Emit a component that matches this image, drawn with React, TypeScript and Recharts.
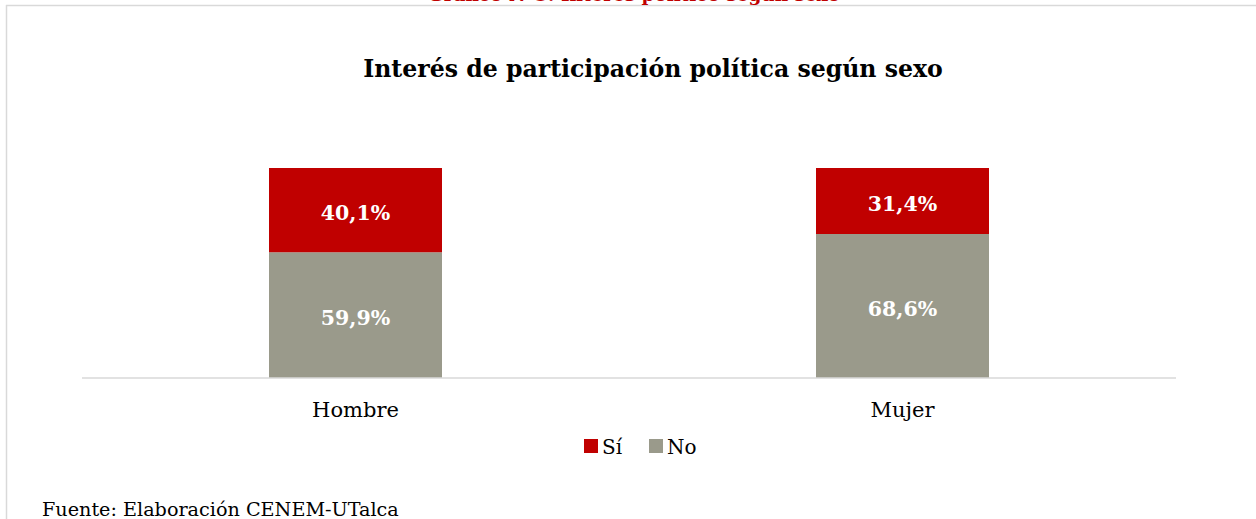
import React from 'react';
import { BarChart, Bar, XAxis, YAxis, LabelList } from 'recharts';

const categories = ['Hombre', 'Mujer'];
const siValues = [40.1, 31.4];
const noValues = [59.9, 68.6];
const seriesKeys = ['si', 'no'];
const seriesNames = ['Sí', 'No'];
const seriesColors = ['#C00000', '#9A9A8B'];
const titleText = 'Interés de participación política según sexo';
const headingText = 'Gráfico N°5: Interés político según sexo';
const sourceText = 'Fuente: Elaboración CENEM-UTalca';

const data = categories.map((c, i) => ({ sexo: c, si: siValues[i], no: noValues[i] }));

const FONT = '"DejaVu Serif", serif';

const fmt = (v: any) => `${Number(v).toFixed(1).replace('.', ',')}%`;

const renderLabel = (props: any) => {
  const { x, y, width, height, value } = props;
  return (
    <text
      x={Number(x) + Number(width) / 2}
      y={Number(y) + Number(height) / 2 + 3}
      textAnchor="middle"
      dominantBaseline="central"
      fill="#FFFFFF"
      fontSize={20.5}
      fontWeight="bold"
      fontFamily={FONT}
    >
      {fmt(value)}
    </text>
  );
};

export default function App() {
  const legendX = [584, 649];
  return (
    <div
      style={{
        position: 'absolute',
        left: 0,
        top: 0,
        width: 1256,
        height: 519,
        overflow: 'hidden',
        background: '#fff',
      }}
    >
      <div style={{ position: 'absolute', left: 0, top: 0 }}>
        <BarChart
          width={1256}
          height={519}
          data={data}
          margin={{ top: 168, right: 80, bottom: 111, left: 82 }}
        >
          <YAxis hide domain={[0, 100]} />
          <XAxis
            dataKey="sexo"
            height={30}
            tickLine={false}
            axisLine={{ stroke: '#D9D9D9', strokeWidth: 1.5 }}
            tick={{ fill: '#000', fontSize: 21, fontFamily: FONT }}
            tickMargin={18}
          />
          <Bar dataKey="no" stackId="a" fill={seriesColors[1]} barSize={173} isAnimationActive={false}>
            <LabelList dataKey="no" content={renderLabel} />
          </Bar>
          <Bar dataKey="si" stackId="a" fill={seriesColors[0]} barSize={173} isAnimationActive={false}>
            <LabelList dataKey="si" content={renderLabel} />
          </Bar>
        </BarChart>
      </div>
      <svg
        width={1256}
        height={519}
        style={{ position: 'absolute', left: 0, top: 0, pointerEvents: 'none' }}
      >
        <line x1={6} y1={5.5} x2={1256} y2={5.5} stroke="#D9D9D9" strokeWidth={1.5} />
        <line x1={6.5} y1={5} x2={6.5} y2={519} stroke="#D9D9D9" strokeWidth={1.5} />
        <text
          x={428}
          y={0.5}
          fontFamily={FONT}
          fontWeight="bold"
          fontSize={16}
          fill="#C00000"
          textLength={412}
          lengthAdjust="spacingAndGlyphs"
        >
          {headingText}
        </text>
        <text
          x={653}
          y={77}
          textAnchor="middle"
          fontFamily={FONT}
          fontWeight="bold"
          fontSize={23.6}
          fill="#000"
        >
          {titleText}
        </text>
        {seriesNames.map((name, i) => (
          <g key={seriesKeys[i]}>
            <rect x={legendX[i]} y={439} width={14} height={14} fill={seriesColors[i]} />
            <text x={legendX[i] + 18} y={454} fontFamily={FONT} fontSize={20} fill="#000">
              {name}
            </text>
          </g>
        ))}
        <text x={42} y={516} fontFamily={FONT} fontSize={19.2} fill="#000">
          {sourceText}
        </text>
      </svg>
    </div>
  );
}
